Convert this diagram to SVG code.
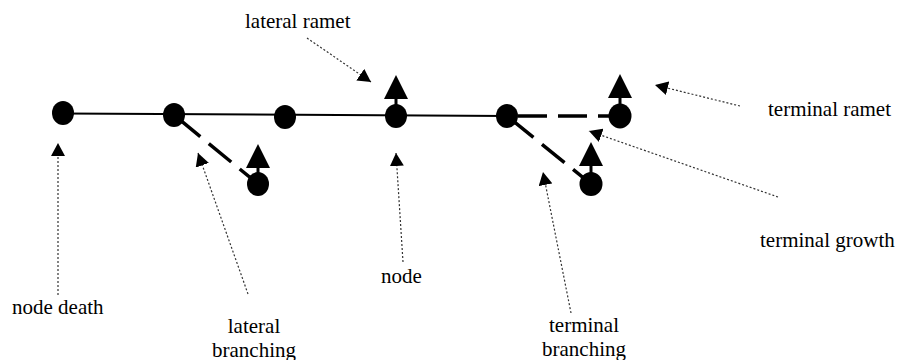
<svg xmlns="http://www.w3.org/2000/svg" width="899" height="360" viewBox="0 0 899 360">
<style>
.label{font-family:"Liberation Serif","Times New Roman",serif;font-size:21px;fill:#000}
.node{fill:#000}
.ramet{fill:#000}
.stem{stroke:#000;stroke-width:3}
.solid{stroke:#000;stroke-width:2;fill:none}
.dash{stroke:#000;stroke-width:3.5;fill:none;stroke-dasharray:29 11}
.ptr{stroke:#333;stroke-width:1.2;fill:none;stroke-dasharray:2 2;marker-end:url(#ah)}
</style>
<defs>
<marker id="ah" markerUnits="userSpaceOnUse" markerWidth="14" markerHeight="14" refX="13" refY="7" orient="auto" viewBox="0 0 14 14">
<path d="M0,0 L13,7 L0,14 z" fill="#000"/>
</marker>
</defs>
<rect width="899" height="360" fill="#fff"/>
<g id="connectors">
<line class="solid" x1="63" y1="113.5" x2="507" y2="116"/>
<line class="dash" x1="518" y1="116" x2="609" y2="116"/>
<line class="dash" x1="510.9" y1="119.1" x2="591" y2="184"/>
<line class="dash" x1="177.9" y1="118.2" x2="258" y2="184"/>
</g>
<g id="node1"><ellipse class="node" cx="63" cy="113" rx="11" ry="12"/></g>
<g id="node2"><ellipse class="node" cx="174" cy="115" rx="11" ry="12"/></g>
<g id="node3"><ellipse class="node" cx="285" cy="117" rx="11" ry="12"/></g>
<g id="node4">
<line class="stem" x1="396" y1="97" x2="396" y2="106"/>
<polygon class="ramet" points="396,75 384,99 408,99"/>
<ellipse class="node" cx="396" cy="116" rx="11" ry="12"/>
</g>
<g id="node5"><ellipse class="node" cx="507" cy="116" rx="11" ry="12"/></g>
<g id="node6">
<line class="stem" x1="620" y1="97" x2="620" y2="106"/>
<polygon class="ramet" points="620,74 608,98 632,98"/>
<ellipse class="node" cx="620" cy="116" rx="11.5" ry="12.5"/>
</g>
<g id="nodeLateral">
<line class="stem" x1="258" y1="166" x2="258" y2="174"/>
<polygon class="ramet" points="258,144 246,168 270,168"/>
<ellipse class="node" cx="258" cy="184" rx="11" ry="12"/>
</g>
<g id="nodeTerminal">
<line class="stem" x1="591" y1="164" x2="591" y2="174"/>
<polygon class="ramet" points="591,142 579,166 603,166"/>
<ellipse class="node" cx="591" cy="184" rx="11.5" ry="12"/>
</g>
<g id="pointers">
<line class="ptr" x1="58" y1="295" x2="58" y2="143"/>
<line class="ptr" x1="248" y1="294" x2="198" y2="153"/>
<line class="ptr" x1="403" y1="262" x2="396" y2="153"/>
<line class="ptr" x1="307" y1="38" x2="371" y2="82"/>
<line class="ptr" x1="740" y1="106" x2="655" y2="85"/>
<line class="ptr" x1="778" y1="197" x2="589" y2="131"/>
<line class="ptr" x1="571" y1="313" x2="543" y2="172"/>
</g>
<g id="labels">
<text class="label" x="245" y="28">lateral ramet</text>
<text class="label" x="768" y="116">terminal ramet</text>
<text class="label" x="760" y="247">terminal growth</text>
<text class="label" x="12" y="314">node death</text>
<text class="label" x="381" y="283">node</text>
<text class="label" x="254" y="333" text-anchor="middle">lateral</text>
<text class="label" x="254" y="357" text-anchor="middle">branching</text>
<text class="label" x="584" y="332" text-anchor="middle">terminal</text>
<text class="label" x="584" y="356" text-anchor="middle">branching</text>
</g>
</svg>
